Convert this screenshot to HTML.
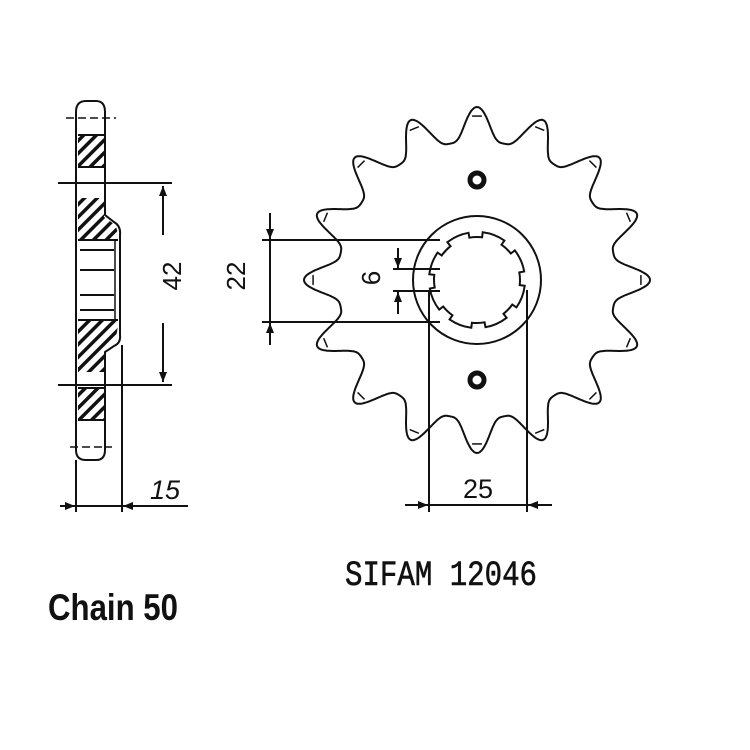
<!DOCTYPE html>
<html><head><style>body{margin:0;background:#fff}svg{display:block}</style></head><body>
<svg id="s" width="750" height="750" viewBox="0 0 750 750" xmlns="http://www.w3.org/2000/svg">
<defs>
<pattern id="h" patternUnits="userSpaceOnUse" width="9" height="9" patternTransform="rotate(45)">
<rect width="9" height="9" fill="#fff"/><rect width="3.5" height="9" fill="#111"/></pattern>
<marker id="a" markerWidth="10" markerHeight="8" refX="10" refY="4" orient="auto" markerUnits="userSpaceOnUse"><path d="M0,0 L10,4 L0,8 z" fill="#111"/></marker>
</defs>
<g stroke="#111" stroke-width="2" fill="none">
<path d="M76,112 Q76,101 86,101 L96,101 Q105,101 105,112 L105,215 L114,222 Q121,226 120,235 L120,335 Q121,343 114,346 L105,352 L105,450 Q105,460 96,460 L86,460 Q76,460 76,450 Z" fill="#fff"/>
<rect x="78" y="135" width="26" height="32" fill="url(#h)" stroke="none"/>
<path d="M78,198 L104,198 L104,217 L114,224 Q118,228 118,240 L78,240 Z" fill="url(#h)" stroke="none"/>
<path d="M78,320 L118,320 Q118,334 114,340 L104,347 L104,372 L78,372 Z" fill="url(#h)" stroke="none"/>
<rect x="78" y="388" width="26" height="32" fill="url(#h)" stroke="none"/>
<line x1="78" y1="135" x2="104" y2="135"/><line x1="78" y1="167" x2="104" y2="167"/>
<line x1="78" y1="420" x2="104" y2="420"/><line x1="78" y1="388" x2="104" y2="388"/>
<line x1="78" y1="240" x2="118" y2="240"/><line x1="78" y1="320" x2="118" y2="320"/>
<line x1="80" y1="250" x2="114" y2="250"/><line x1="80" y1="270" x2="114" y2="270"/>
<line x1="80" y1="295" x2="114" y2="295"/><line x1="80" y1="310" x2="114" y2="310"/>
<line x1="115" y1="240" x2="115" y2="320" stroke-width="1.5"/>
<line x1="66" y1="118" x2="116" y2="118" stroke-dasharray="8,4" stroke-width="1.5"/>
<line x1="70" y1="447" x2="112" y2="447" stroke-dasharray="8,4" stroke-width="1.5"/>
<line x1="58" y1="183" x2="172" y2="183"/><line x1="58" y1="385" x2="172" y2="385"/>
<line x1="163" y1="235" x2="163" y2="186" marker-end="url(#a)"/>
<line x1="163" y1="323" x2="163" y2="382" marker-end="url(#a)"/>
<line x1="76" y1="460" x2="76" y2="512"/><line x1="122" y1="345" x2="122" y2="512"/>
<line x1="60" y1="506" x2="75" y2="506" marker-end="url(#a)"/>
<line x1="188" y1="506" x2="123" y2="506" marker-end="url(#a)"/>
<line x1="76" y1="506" x2="122" y2="506"/>
<path id="sp" d=""/>
<g id="tips" stroke-width="1.5"></g>
<circle cx="477" cy="280" r="64"/>
<path id="bore" d=""/>
<circle cx="477" cy="180" r="7" stroke-width="5"/>
<circle cx="477" cy="380" r="7" stroke-width="5"/>
<line x1="262" y1="240" x2="440" y2="240"/><line x1="262" y1="322" x2="440" y2="322"/>
<line x1="270" y1="213" x2="270" y2="239" marker-end="url(#a)"/>
<line x1="270" y1="345" x2="270" y2="323" marker-end="url(#a)"/>
<line x1="270" y1="240" x2="270" y2="322"/>
<line x1="393" y1="269" x2="440" y2="269"/><line x1="393" y1="291" x2="440" y2="291"/>
<line x1="398" y1="248" x2="398" y2="268" marker-end="url(#a)"/>
<line x1="398" y1="314" x2="398" y2="292" marker-end="url(#a)"/>
<line x1="429" y1="291" x2="429" y2="512"/><line x1="527" y1="290" x2="527" y2="512"/>
<line x1="405" y1="505" x2="428" y2="505" marker-end="url(#a)"/>
<line x1="552" y1="505" x2="528" y2="505" marker-end="url(#a)"/>
<line x1="429" y1="505" x2="527" y2="505"/>
</g>
<g fill="#111" font-family="Liberation Sans, sans-serif">
<text x="0" y="0" font-size="26" transform="translate(181,276) rotate(-90)" text-anchor="middle">42</text>
<text x="0" y="0" font-size="26" transform="translate(245,276) rotate(-90)" text-anchor="middle">22</text>
<text x="0" y="0" font-size="26" transform="translate(380,278) rotate(-90)" text-anchor="middle">6</text>
<text x="165" y="499" font-size="27" text-anchor="middle" font-style="italic">15</text>
<text x="478" y="498" font-size="27" text-anchor="middle">25</text>
<text x="345" y="585" font-size="35" font-family="Liberation Mono, monospace" stroke="#111" stroke-width="0.6" textLength="192" lengthAdjust="spacingAndGlyphs">SIFAM 12046</text>
<text x="48" y="620" font-size="37" font-weight="bold" textLength="130" lengthAdjust="spacingAndGlyphs">Chain 50</text>
</g>
</svg>
<script>
var cx=477,cy=280,N=16,Rt=173,Rr=139,H=Rt-Rr,d="";
for(var i=0;i<=1440;i++){var t=i/1440*2*Math.PI;
var ph=(t*N/(2*Math.PI)+0.5)%1; var x=Math.abs(ph-0.5)*2;
var r=Rr+H*Math.pow((1+Math.cos(Math.PI*x))/2,1.6);
var a=t-Math.PI/2;d+=(i?"L":"M")+(cx+r*Math.cos(a)).toFixed(1)+","+(cy+r*Math.sin(a)).toFixed(1);}
document.getElementById("sp").setAttribute("d",d+"Z");
var g=document.getElementById("tips"),s="";
for(var k=0;k<N;k++){var a=k*2*Math.PI/N-Math.PI/2,r=Rt-9,w=0.03;
s+='<line x1="'+(cx+r*Math.cos(a-w))+'" y1="'+(cy+r*Math.sin(a-w))+'" x2="'+(cx+r*Math.cos(a+w))+'" y2="'+(cy+r*Math.sin(a+w))+'"/>';}
g.innerHTML=s;
var b="",n=8;
function P(a,r){return (cx+r*Math.cos(a)).toFixed(1)+","+(cy+r*Math.sin(a)).toFixed(1);}
for(var k=0;k<n;k++){var a0=k*2*Math.PI/n-Math.PI/2+0.12,a1=a0+2*Math.PI/n*0.62,a2=a0+2*Math.PI/n;
b+=(k?"L":"M")+P(a0,48)+"A48,48 0 0 1 "+P(a1,48)+"L"+P(a1,43)+"A43,43 0 0 1 "+P(a2,43)+"L"+P(a2,48);}
document.getElementById("bore").setAttribute("d",b+"Z");
</script>
</body></html>
